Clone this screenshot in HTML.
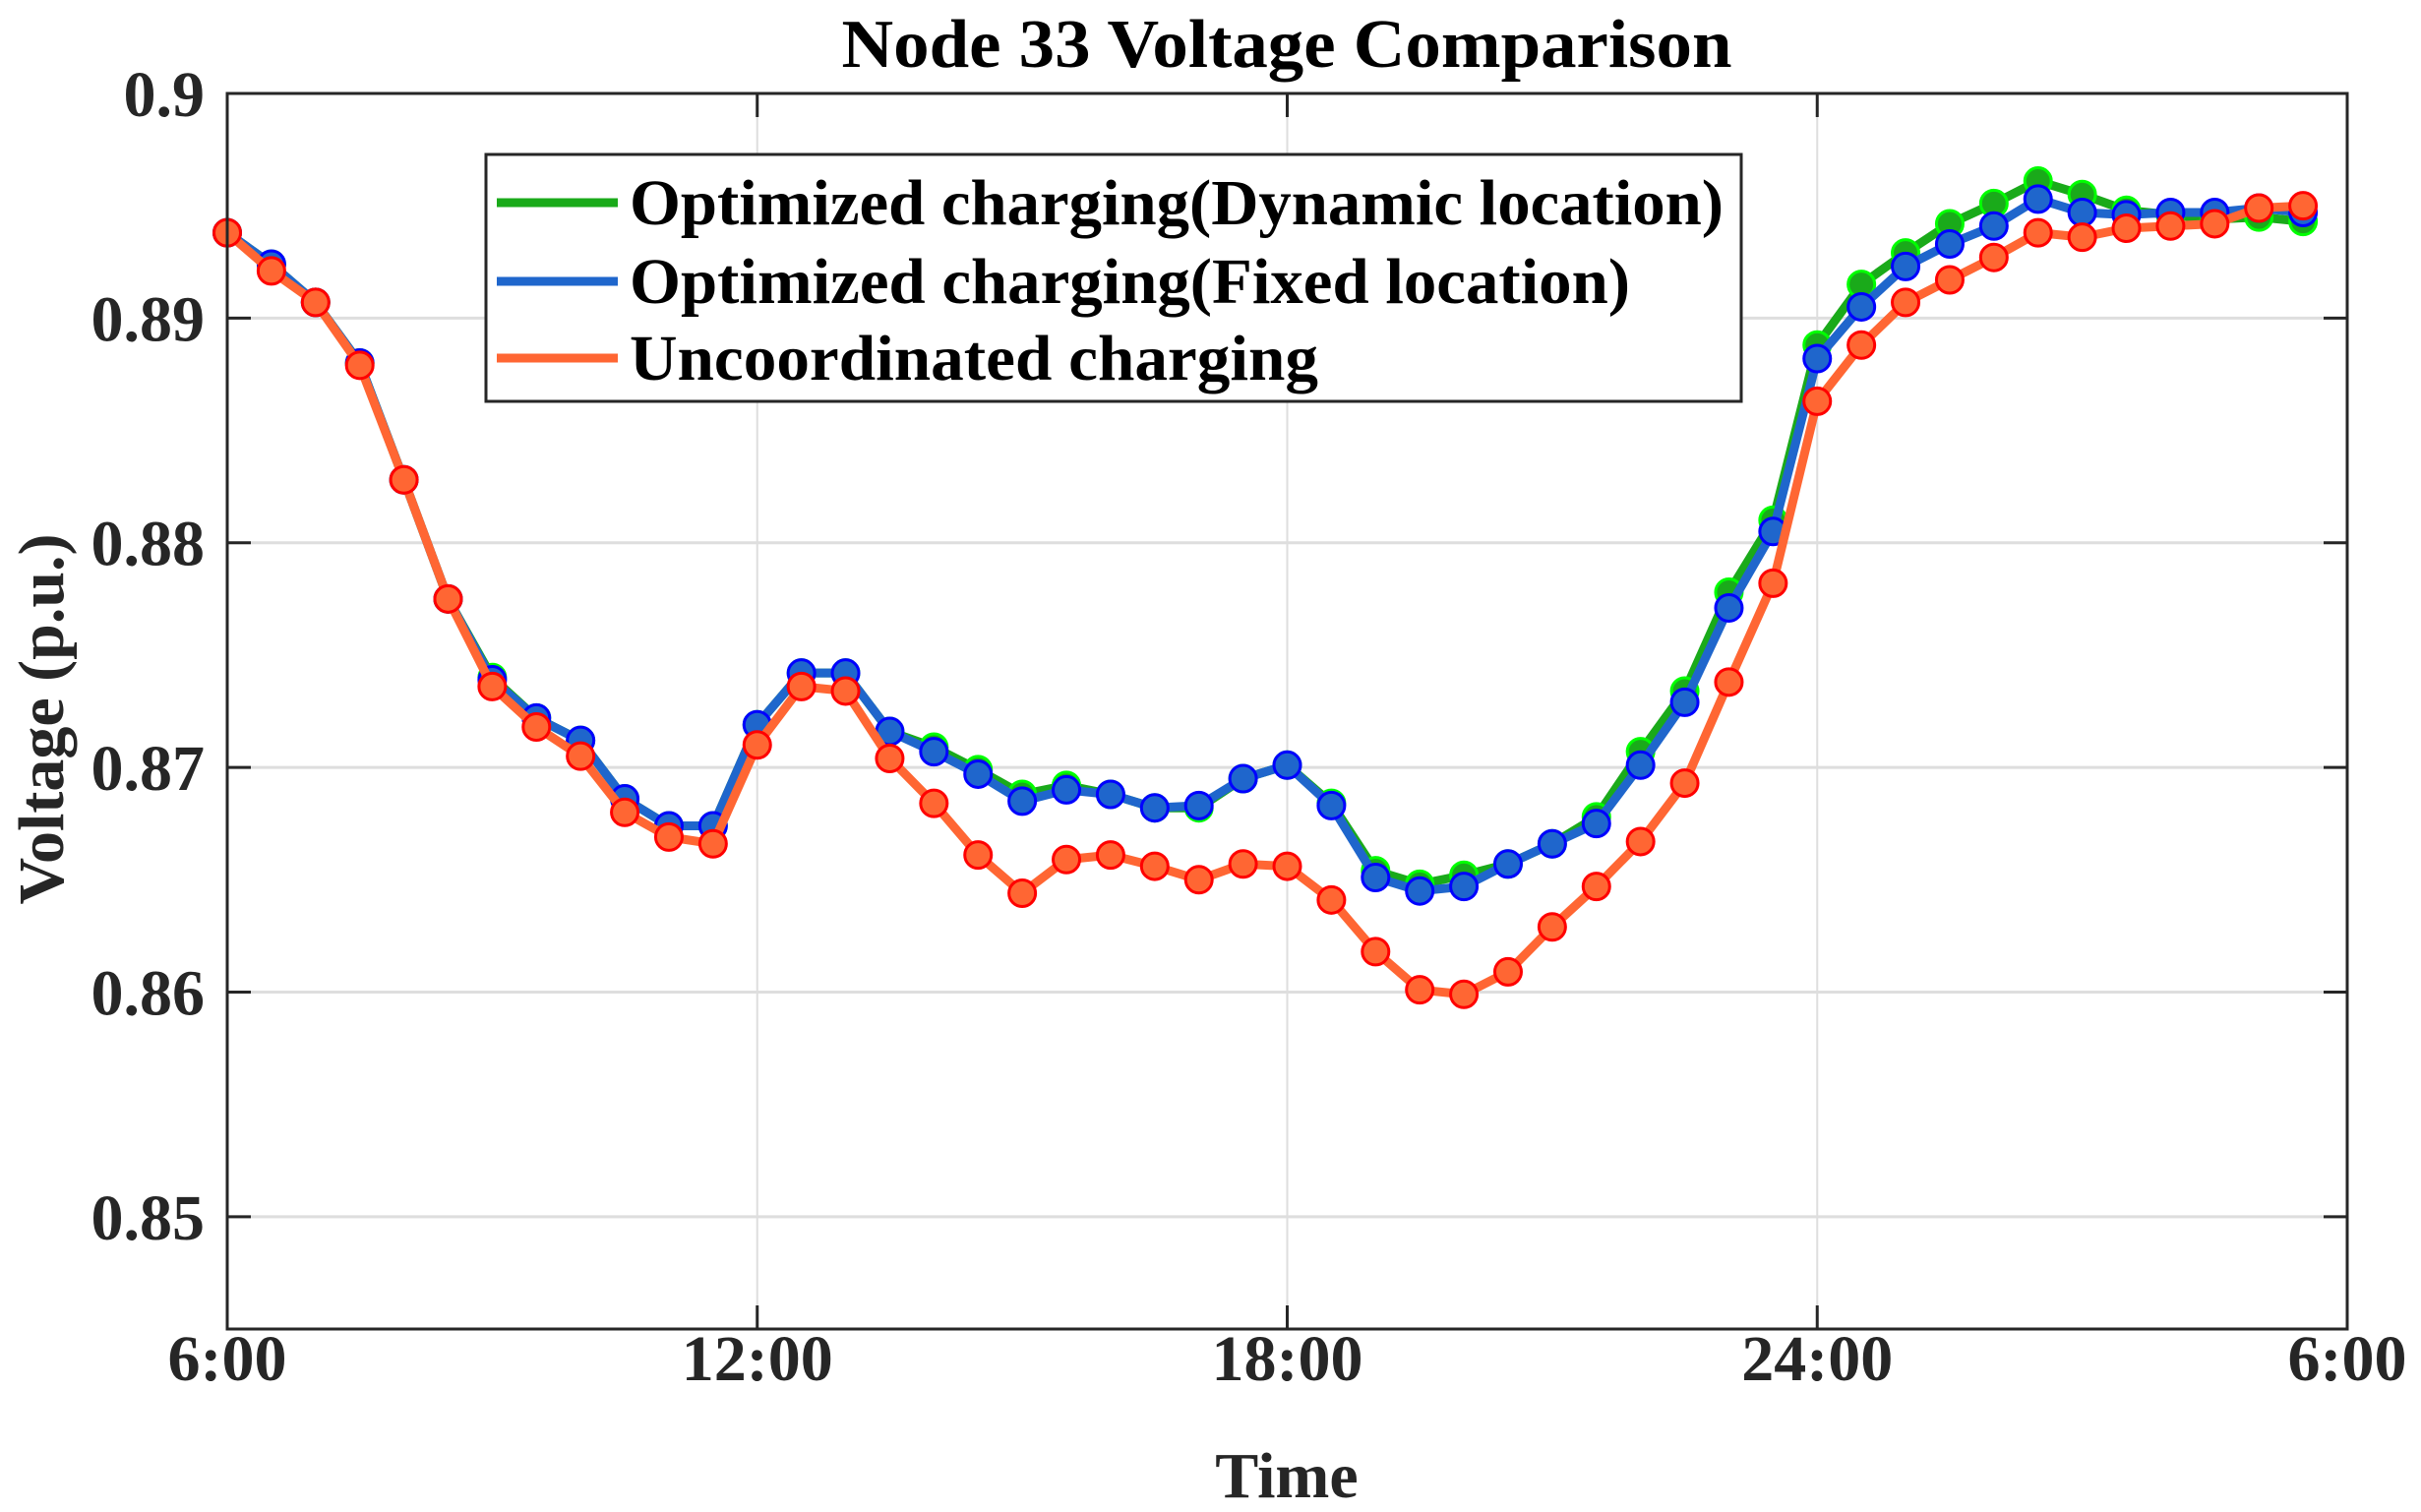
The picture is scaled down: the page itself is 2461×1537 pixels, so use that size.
<!DOCTYPE html>
<html><head><meta charset="utf-8"><style>
html,body{margin:0;padding:0;background:#fff;}
svg{display:block;font-family:"Liberation Serif",serif;font-weight:bold;}
</style></head><body>
<svg id="chart" width="2461" height="1537" viewBox="0 0 2461 1537">
<rect width="2461" height="1537" fill="#fff"/>
<g id="grid"></g>
<g id="series"></g>
<rect x="231" y="95" width="2155" height="1256" fill="none" stroke="#262626" stroke-width="3"/>
<g id="ticks"></g>
<text x="1308" y="68" font-size="70" text-anchor="middle" fill="#000" textLength="905" lengthAdjust="spacingAndGlyphs">Node 33 Voltage Comparison</text>
<text x="1308" y="1522" font-size="66" text-anchor="middle" fill="#262626">Time</text>
<text transform="translate(64,731) rotate(-90)" font-size="66" text-anchor="middle" fill="#262626">Voltage (p.u.)</text>
<g>
<rect x="494" y="157" width="1276" height="251" fill="#fff" stroke="#262626" stroke-width="3"/>
<line x1="505" y1="206" x2="628" y2="206" stroke="#1aaa1a" stroke-width="9"/>
<text x="640" y="228" font-size="66" fill="#000" textLength="1112" lengthAdjust="spacingAndGlyphs">Optimized charging(Dynamic location)</text>
<line x1="505" y1="286" x2="628" y2="286" stroke="#1f66cc" stroke-width="9"/>
<text x="640" y="308" font-size="66" fill="#000" textLength="1017" lengthAdjust="spacingAndGlyphs">Optimized charging(Fixed location)</text>
<line x1="505" y1="364" x2="628" y2="364" stroke="#ff6633" stroke-width="9"/>
<text x="640" y="386" font-size="66" fill="#000" textLength="700" lengthAdjust="spacingAndGlyphs">Uncoordinated charging</text>
</g>
</svg>
<script>
const xTickLabels = ["6:00","12:00","18:00","24:00","6:00"];
const yTicks = [0.85,0.86,0.87,0.88,0.89,0.9];
const yTickLabels = ["0.85","0.86","0.87","0.88","0.89","0.9"];
const dynamicVals = [0.8938,0.8924,0.8907,0.8880,0.8828,0.8775,0.8740,0.8722,0.8712,0.8686,0.8674,0.8674,0.8719,0.8742,0.8742,0.8716,0.8709,0.8699,0.8688,0.8692,0.8688,0.8682,0.8682,0.8695,0.8701,0.8684,0.8654,0.8648,0.8652,0.8657,0.8666,0.8678,0.8707,0.8734,0.8778,0.8810,0.8888,0.8915,0.8929,0.8942,0.8951,0.8961,0.8955,0.8948,0.8946,0.8944,0.8945,0.8943];
const fixedVals = [0.8938,0.8924,0.8907,0.8880,0.8828,0.8775,0.8739,0.8722,0.8712,0.8686,0.8674,0.8674,0.8719,0.8742,0.8742,0.8716,0.8707,0.8697,0.8685,0.8690,0.8688,0.8682,0.8683,0.8695,0.8701,0.8683,0.8651,0.8645,0.8647,0.8657,0.8666,0.8675,0.8701,0.8729,0.8771,0.8805,0.8882,0.8905,0.8923,0.8933,0.8941,0.8953,0.8947,0.8946,0.8947,0.8947,0.8949,0.8947];
const uncoordVals = [0.8938,0.8921,0.8907,0.8879,0.8828,0.8775,0.8736,0.8718,0.8705,0.8680,0.8669,0.8666,0.8710,0.8736,0.8734,0.8704,0.8684,0.8661,0.8644,0.8659,0.8661,0.8656,0.8650,0.8657,0.8656,0.8641,0.8618,0.8601,0.8599,0.8609,0.8629,0.8647,0.8667,0.8693,0.8738,0.8782,0.8863,0.8888,0.8907,0.8917,0.8927,0.8938,0.8936,0.8940,0.8941,0.8942,0.8949,0.8950];

const NS="http://www.w3.org/2000/svg";
const L=231,R=2386,T=95,B=1351;
const xHour=h=>L+(h)*(R-L)/24;
const xIdx=i=>xHour(i*0.5);
const yV=v=>B-(v-0.845)/(0.9-0.845)*(B-T);
function mk(tag,attrs,parent){const e=document.createElementNS(NS,tag);for(const k in attrs)e.setAttribute(k,attrs[k]);parent.appendChild(e);return e;}
const grid=document.getElementById('grid'),ticks=document.getElementById('ticks'),ser=document.getElementById('series');
xTickLabels.forEach((lab,i)=>{
  const x=xHour(i*6);
  if(i>0&&i<4){const g=mk('line',{x1:x,x2:x,y1:T,y2:B,stroke:'#dedede','stroke-width':2},grid);
  
  }
  const t1=mk('line',{x1:x,x2:x,y1:B,y2:B-24,stroke:'#262626','stroke-width':3},ticks);
  
  
  const t2=mk('line',{x1:x,x2:x,y1:T,y2:T+24,stroke:'#262626','stroke-width':3},ticks);
  
  
  const tx=mk('text',{x:x,y:1403,'font-size':66,'text-anchor':'middle',fill:'#262626'},ticks);
  tx.textContent=lab;
  
  
});
yTicks.forEach((v,i)=>{
  const y=yV(v);
  if(v<0.9){const g=mk('line',{x1:L,x2:R,y1:y,y2:y,stroke:'#dedede','stroke-width':3},grid);
  
  }
  const t1=mk('line',{x1:L,x2:L+24,y1:y,y2:y,stroke:'#262626','stroke-width':3},ticks);
  
  
  const t2=mk('line',{x1:R,x2:R-24,y1:y,y2:y,stroke:'#262626','stroke-width':3},ticks);
  
  
  const tx=mk('text',{x:208,y:y+23,'font-size':66,'text-anchor':'end',fill:'#262626'},ticks);
  tx.textContent=yTickLabels[i];
  
  
});
function drawSeries(vals,line,fill,edge,name){
  const g=mk('g',{},ser);
  
  
  const p=mk('polyline',{points:vals.map((v,i)=>xIdx(i)+','+yV(v)).join(' '),fill:'none',stroke:line,'stroke-width':9,'stroke-linejoin':'round'},g);
  
  
  vals.forEach((v,i)=>{
    const c=mk('circle',{cx:xIdx(i),cy:yV(v),r:13.5,fill:fill,stroke:edge,'stroke-width':3},g);
    
    
  });
}
drawSeries(dynamicVals,'#1aaa1a','#1aaa1a','#00ff00','dynamic');
drawSeries(fixedVals,'#1f66cc','#1f66cc','#0000ff','fixed');
drawSeries(uncoordVals,'#ff6633','#ff6633','#ff0000','uncoordinated');
</script>
</body></html>
